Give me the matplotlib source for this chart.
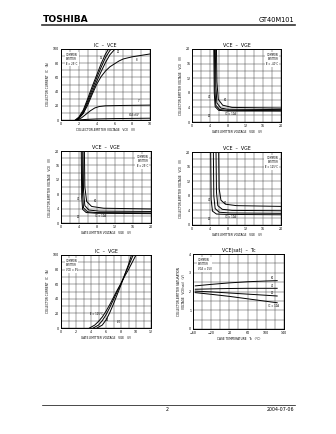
import matplotlib
matplotlib.use("Agg")
import matplotlib.pyplot as plt
import numpy as np

W, H = 336, 434
plt.rcParams['font.family'] = ['DejaVu Sans']

# ---------------- data ----------------
# Chart 1: IC - VCE (Tc = 25C)
c1_vge_labels = ["20", "15", "10", "8", "7", "VGE=6V"]
c1_vce = [
    [1.6, 2.0, 2.5, 3.0, 3.5, 4.0, 4.5, 5.0, 5.35],
    [1.65, 2.0, 2.5, 3.0, 3.5, 4.0, 4.5, 5.0, 5.5, 5.7],
    [1.7, 2.0, 2.5, 3.0, 3.5, 4.0, 4.5, 5.0, 5.5, 6.0, 6.1],
    [1.8, 2.5, 3.0, 3.5, 4.0, 4.5, 5.0, 5.5, 6.0, 6.5, 7.0, 8.0, 9.0, 10.0],
    [1.8, 2.3, 2.8, 3.3, 3.8, 4.3, 5.0, 7.0, 10.0],
    [1.9, 2.5, 3.0, 4.0, 6.0, 10.0],
]
c1_ic = [
    [0, 4, 14, 30, 47, 63, 79, 93, 100],
    [0, 3, 12, 27, 43, 59, 74, 88, 98, 100],
    [0, 2, 10, 24, 39, 54, 68, 81, 92, 99, 100],
    [0, 9, 21, 36, 50, 61, 69, 75, 79, 83, 86, 89, 91, 93],
    [0, 3, 8, 13, 17, 19, 20, 20.5, 21],
    [0, 0.5, 1.0, 1.5, 2.0, 2.5],
]

# Charts 2-4: VCE - VGE at Tc = -40, 25, 125 C  (IC = 10, 20, 40, 80 A)
vce_vge_ic = ["10", "20", "40", "80"]
c2_vge = [[4.9, 5.0, 5.2, 6.0, 8.0, 20.0],
          [5.05, 5.15, 5.35, 6.2, 8.0, 20.0],
          [5.25, 5.35, 5.6, 6.5, 8.0, 20.0],
          [5.5, 5.6, 5.9, 6.9, 9.0, 20.0]]
c2_vce = [[20, 8, 4.2, 3.2, 3.0, 3.0],
          [20, 9, 4.6, 3.4, 3.2, 3.1],
          [20, 10, 5.2, 3.8, 3.5, 3.4],
          [20, 11, 6.2, 4.6, 4.0, 3.8]]
c3_vge = [[4.5, 4.6, 4.8, 5.6, 8.0, 20.0],
          [4.7, 4.8, 5.0, 5.9, 8.0, 20.0],
          [4.9, 5.0, 5.3, 6.2, 8.5, 20.0],
          [5.2, 5.3, 5.7, 6.8, 9.5, 20.0]]
c3_vce = [[20, 7, 3.8, 2.9, 2.7, 2.6],
          [20, 8, 4.2, 3.1, 2.9, 2.8],
          [20, 9, 4.8, 3.6, 3.3, 3.2],
          [20, 10, 6.0, 4.6, 4.1, 3.9]]
c4_vge = [[4.2, 4.3, 4.6, 5.5, 8.0, 20.0],
          [4.8, 4.9, 5.2, 6.1, 8.5, 20.0],
          [5.4, 5.5, 5.8, 6.8, 9.0, 20.0],
          [6.0, 6.1, 6.5, 7.5, 10.0, 20.0]]
c4_vce = [[20, 7, 3.8, 3.0, 2.9, 2.8],
          [20, 8, 4.5, 3.5, 3.3, 3.2],
          [20, 9, 5.3, 4.3, 4.0, 3.9],
          [20, 10, 6.8, 5.7, 5.3, 5.1]]

# Chart 5: IC - VGE (VCE = 5V), Tc = 125, 25, -40 C
c5_labels = ["Tc = 125°C", "25", "-40"]
c5_vge = [[3.8, 4.5, 5.0, 5.5, 6.0, 6.5, 7.0, 7.5, 8.0, 8.5, 9.0, 9.5, 10.0],
          [4.3, 5.0, 5.5, 6.0, 6.5, 7.0, 7.5, 8.0, 8.5, 9.0, 9.5, 9.65],
          [4.8, 5.5, 6.0, 6.5, 7.0, 7.5, 8.0, 8.5, 9.0, 9.4]]
c5_ic = [[0, 4, 9, 15, 23, 32, 42, 52, 61, 71, 80, 90, 100],
         [0, 4, 10, 18, 28, 39, 50, 61, 73, 85, 97, 100],
         [0, 4, 11, 21, 33, 46, 59, 73, 87, 100]]

# Chart 6: VCE(sat) - Tc (VGE = 15V), IC = 80, 40, 20, 10 A
c6_labels = ["80", "40", "20", "IC = 10A"]
c6_tc = [-55, -20, 20, 60, 100, 125]
c6_vsat = [[2.30, 2.38, 2.46, 2.52, 2.56, 2.58],
           [2.12, 2.14, 2.16, 2.17, 2.17, 2.17],
           [2.02, 1.98, 1.92, 1.86, 1.80, 1.76],
           [1.94, 1.85, 1.74, 1.61, 1.48, 1.40]]

# ---------------- drawing ----------------
fig = plt.figure(figsize=(W / 100, H / 100), dpi=100)
fig.patch.set_facecolor("white")

def add_ax(l, t, r, b):
    return fig.add_axes([l / W, 1 - b / H, (r - l) / W, (b - t) / H])

FS = 2.3
GRID = dict(color="#444444", lw=0.35)

def style(ax, xlim, ylim, xmaj, ymaj, xmin_step, ymin_step, title, xlabel, ylabel):
    ax.set_xlim(*xlim)
    ax.set_ylim(*ylim)
    ax.set_xticks(xmaj)
    ax.set_yticks(ymaj)
    ax.set_xticks(np.arange(xlim[0], xlim[1] + 1e-9, xmin_step), minor=True)
    ax.set_yticks(np.arange(ylim[0], ylim[1] + 1e-9, ymin_step), minor=True)
    ax.grid(True, which="both", **GRID)
    ax.tick_params(which="both", length=0, labelsize=FS, pad=1.2)
    for s in ax.spines.values():
        s.set_linewidth(0.7)
    ax.set_title(title, fontsize=3.4, pad=1.5)
    ax.set_xlabel(xlabel, fontsize=2.1, labelpad=1.5)
    ax.set_ylabel(ylabel, fontsize=2.1, labelpad=2.5)

def box(ax, lines):
    ax.text(0.05, 0.95, "\n".join(lines), transform=ax.transAxes, fontsize=1.8,
            va="top", ha="left", linespacing=1.2,
            bbox=dict(facecolor="white", edgecolor="none", pad=0.5))

LW = 0.7

# Chart 1
ax1 = add_ax(61, 49, 150, 120)
style(ax1, (0, 10), (0, 100), [0, 2, 4, 6, 8, 10], [0, 20, 40, 60, 80, 100], 1, 10,
      "IC  –  VCE", "COLLECTOR-EMITTER VOLTAGE   VCE   (V)", "COLLECTOR CURRENT   IC   (A)")
for x, y in zip(c1_vce, c1_ic):
    ax1.plot(x, y, color="black", lw=LW)
box(ax1, ["COMMON", "EMITTER", "Tc = 25°C"])
ax1.text(6.3, 94, c1_vge_labels[0], fontsize=1.8)
ax1.text(4.3, 86, c1_vge_labels[1], fontsize=1.8)
ax1.text(8.4, 83, c1_vge_labels[3], fontsize=1.8)
ax1.text(8.6, 25, c1_vge_labels[4], fontsize=1.8)
ax1.text(7.6, 5, c1_vge_labels[5], fontsize=1.8)

# Charts 2-4
def vce_vge(ax, vg, vc, tc):
    style(ax, (0, 20), (0, 20), [0, 4, 8, 12, 16, 20], [0, 4, 8, 12, 16, 20], 2, 2,
          "VCE  –  VGE", "GATE-EMITTER VOLTAGE   VGE   (V)",
          "COLLECTOR-EMITTER VOLTAGE   VCE   (V)")
    for x, y in zip(vg, vc):
        ax.plot(x, y, color="black", lw=LW)
    ax.text(0.97, 0.95, "COMMON\nEMITTER\n" + tc, transform=ax.transAxes, fontsize=1.8,
            va="top", ha="right", linespacing=1.2,
            bbox=dict(facecolor="white", edgecolor="none", pad=0.5))
    ax.text(3.5, 6.5, vce_vge_ic[2], fontsize=1.8)
    ax.text(7.2, 5.8, vce_vge_ic[3], fontsize=1.8)
    ax.text(3.5, 1.5, vce_vge_ic[1], fontsize=1.8)
    ax.text(7.5, 1.8, "IC = " + vce_vge_ic[0] + "A", fontsize=1.8)

ax2 = add_ax(192, 49, 281, 122)
vce_vge(ax2, c2_vge, c2_vce, "Tc = -40°C")
ax3 = add_ax(61, 151, 151, 223)
vce_vge(ax3, c3_vge, c3_vce, "Tc = 25°C")
ax4 = add_ax(192, 152, 281, 225)
vce_vge(ax4, c4_vge, c4_vce, "Tc = 125°C")

# Chart 5
ax5 = add_ax(61, 255, 151, 328)
style(ax5, (0, 12), (0, 100), [0, 2, 4, 6, 8, 10, 12], [0, 20, 40, 60, 80, 100], 1, 10,
      "IC  –  VGE", "GATE-EMITTER VOLTAGE   VGE   (V)", "COLLECTOR CURRENT   IC   (A)")
for x, y in zip(c5_vge, c5_ic):
    ax5.plot(x, y, color="black", lw=LW)
box(ax5, ["COMMON", "EMITTER", "VCE = 5V"])
ax5.text(3.7, 18, c5_labels[0], fontsize=1.8)
ax5.text(6.0, 10, c5_labels[1], fontsize=1.8)
ax5.text(7.4, 7, c5_labels[2], fontsize=1.8)

# Chart 6
ax6 = add_ax(193, 254, 284, 329)
style(ax6, (-60, 140), (0, 4), [-60, -20, 20, 60, 100, 140], [0, 1, 2, 3, 4], 20, 0.5,
      "VCE(sat)  –  Tc", "CASE TEMPERATURE   Tc   (°C)",
      "COLLECTOR-EMITTER SATURATION\nVOLTAGE   VCE(sat)   (V)")
for y in c6_vsat:
    ax6.plot(c6_tc, y, color="black", lw=LW)
box(ax6, ["COMMON", "EMITTER", "VGE = 15V"])
ax6.text(111, 2.68, c6_labels[0], fontsize=1.8)
ax6.text(111, 2.25, c6_labels[1], fontsize=1.8)
ax6.text(111, 1.88, c6_labels[2], fontsize=1.8)
ax6.text(105, 1.15, c6_labels[3], fontsize=1.8)

# Header / footer
fig.text(43 / W, 1 - 20 / H, "TOSHIBA", fontsize=6.6, fontweight="bold", va="center", ha="left")
fig.text(294 / W, 1 - 20 / H, "GT40M101", fontsize=4.8, va="center", ha="right")
fig.add_artist(plt.Line2D([42 / W, 295 / W], [1 - 24.7 / H, 1 - 24.7 / H], color="#333333", lw=1.2))
fig.add_artist(plt.Line2D([42 / W, 295 / W], [1 - 405 / H, 1 - 405 / H], color="black", lw=0.5))
fig.text(167 / W, 1 - 409.5 / H, "2", fontsize=3.4, va="center", ha="center")
fig.text(294 / W, 1 - 409.5 / H, "2004-07-06", fontsize=3.4, va="center", ha="right")

fig.savefig("out.png", dpi=100, facecolor="white")
